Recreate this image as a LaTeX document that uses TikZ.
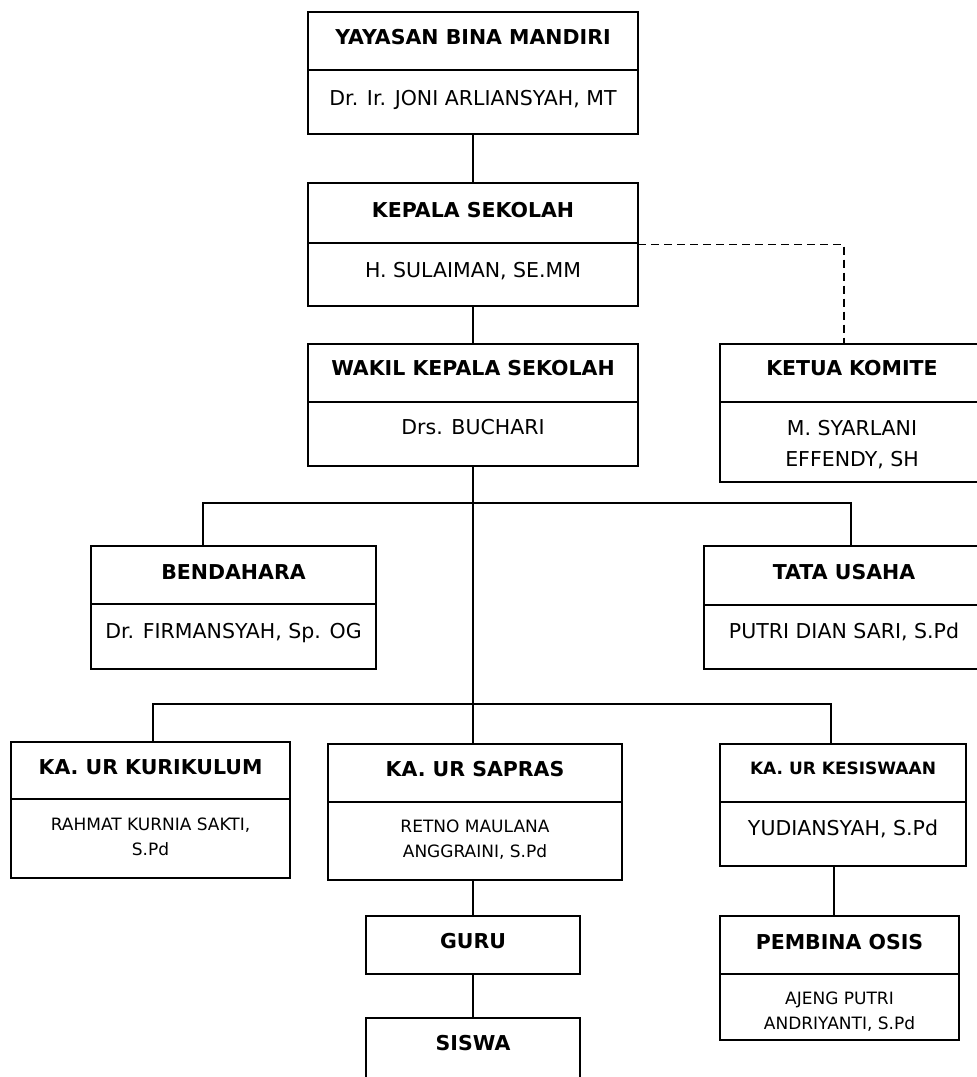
\documentclass[tikz,border=0pt]{standalone}
\usepackage{fontspec}
\setmainfont{DejaVu Sans}
\tikzset{
  orgbox/.style={draw, line width=1.3pt, outer sep=0pt, inner sep=0pt},
  divline/.style={line width=1.3pt},
  link/.style={line width=1.3pt},
  dashlink/.style={line width=1.3pt, dash pattern=on 8pt off 5pt},
  headtext/.style={anchor=base, inner sep=0pt, font=\fontsize{20.5}{24}\selectfont\bfseries},
  headsmall/.style={anchor=base, inner sep=0pt, font=\fontsize{17}{20}\selectfont\bfseries},
  nametext/.style={anchor=base, inner sep=0pt, align=center, font=\fontsize{20.5}{30.5}\selectfont},
  namesmall/.style={anchor=base, inner sep=0pt, align=center, font=\fontsize{17}{25.5}\selectfont}
}

\begin{document}
\begin{tikzpicture}[x=1pt, y=-1pt]
  \fill[white] (0,0) rectangle (977,1077);
  \useasboundingbox (0,0) rectangle (977,1077);
  \clip (0,0) rectangle (977,1077);

  % boxes
  \node[orgbox, minimum width=330pt, minimum height=122pt] (yayasan) at (473,73) {};
  \node[orgbox, minimum width=330pt, minimum height=123pt] (kepala) at (473,244.5) {};
  \node[orgbox, minimum width=330pt, minimum height=122pt] (wakil) at (473,405) {};
  \node[orgbox, minimum width=264pt, minimum height=138pt] (komite) at (852,413) {};
  \node[orgbox, minimum width=285pt, minimum height=123pt] (bendahara) at (233.5,607.5) {};
  \node[orgbox, minimum width=280pt, minimum height=123pt] (tatausaha) at (844,607.5) {};
  \node[orgbox, minimum width=279pt, minimum height=136pt] (kurikulum) at (150.5,810) {};
  \node[orgbox, minimum width=294pt, minimum height=136pt] (sapras) at (475,812) {};
  \node[orgbox, minimum width=246pt, minimum height=122pt] (kesiswaan) at (843,805) {};
  \node[orgbox, minimum width=214pt, minimum height=58pt] (guru) at (473,945) {};
  \node[orgbox, minimum width=214pt, minimum height=74pt] (siswa) at (473,1055) {};
  \node[orgbox, minimum width=239pt, minimum height=124pt] (pembina) at (839.5,978) {};

  % dividers
  \draw[divline] ([yshift=-58pt]yayasan.north west) -- ([yshift=-58pt]yayasan.north east);
  \draw[divline] ([yshift=-60pt]kepala.north west) -- ([yshift=-60pt]kepala.north east);
  \draw[divline] ([yshift=-58pt]wakil.north west) -- ([yshift=-58pt]wakil.north east);
  \draw[divline] ([yshift=-58pt]komite.north west) -- ([yshift=-58pt]komite.north east);
  \draw[divline] ([yshift=-58pt]bendahara.north west) -- ([yshift=-58pt]bendahara.north east);
  \draw[divline] ([yshift=-59pt]tatausaha.north west) -- ([yshift=-59pt]tatausaha.north east);
  \draw[divline] ([yshift=-57pt]kurikulum.north west) -- ([yshift=-57pt]kurikulum.north east);
  \draw[divline] ([yshift=-58pt]sapras.north west) -- ([yshift=-58pt]sapras.north east);
  \draw[divline] ([yshift=-58pt]kesiswaan.north west) -- ([yshift=-58pt]kesiswaan.north east);
  \draw[divline] ([yshift=-58pt]pembina.north west) -- ([yshift=-58pt]pembina.north east);

  % texts
  \node[headtext] (yayasan-head) at (473,44) {YAYASAN BINA MANDIRI};
  \node[nametext] (yayasan-name) at (473,105) {Dr. Ir. JONI ARLIANSYAH, MT};
  \node[headtext] (kepala-head) at (473,217) {KEPALA SEKOLAH};
  \node[nametext] (kepala-name) at (473,277) {H. SULAIMAN, SE.MM};
  \node[headtext] (wakil-head) at (473,375.5) {WAKIL KEPALA SEKOLAH};
  \node[nametext] (wakil-name) at (473,434.5) {Drs. BUCHARI};
  \node[headtext] (komite-head) at (852,375.5) {KETUA KOMITE};
  \node[nametext] (komite-name) at (852,466) {M. SYARLANI\\EFFENDY, SH};
  \node[headtext] (bendahara-head) at (233.5,579) {BENDAHARA};
  \node[nametext] (bendahara-name) at (233.5,638) {Dr. FIRMANSYAH, Sp. OG};
  \node[headtext] (tatausaha-head) at (844,579) {TATA USAHA};
  \node[nametext] (tatausaha-name) at (844,638) {PUTRI DIAN SARI, S.Pd};
  \node[headtext] (kurikulum-head) at (150.5,774.5) {KA. UR KURIKULUM};
  \node[namesmall] (kurikulum-name) at (150.5,855.5) {RAHMAT KURNIA SAKTI,\\S.Pd};
  \node[headtext] (sapras-head) at (475,776.5) {KA. UR SAPRAS};
  \node[namesmall] (sapras-name) at (475,857.5) {RETNO MAULANA\\ANGGRAINI, S.Pd};
  \node[headsmall] (kesiswaan-head) at (843,774) {KA. UR KESISWAAN};
  \node[nametext] (kesiswaan-name) at (843,835.5) {YUDIANSYAH, S.Pd};
  \node[headtext] (guru-head) at (473,948.5) {GURU};
  \node[headtext] (siswa-head) at (473,1050.5) {SISWA};
  \node[headtext] (pembina-head) at (839.5,949) {PEMBINA OSIS};
  \node[namesmall] (pembina-name) at (839.5,1029.5) {AJENG PUTRI\\ANDRIYANTI, S.Pd};

  % connectors
  \coordinate (bar1-l) at (203,503);
  \coordinate (bar1-r) at (851,503);
  \coordinate (bar2-l) at (153,704);
  \coordinate (bar2-r) at (831,704);
  \draw[link] (yayasan.south) -- (kepala.north);
  \draw[link] (kepala.south) -- (wakil.north);
  \draw[dashlink] (kepala.east) -| ([xshift=-8pt]komite.north);
  \draw[link] (wakil.south) -- (wakil.south |- sapras.north);
  \draw[link] (bar1-l |- bendahara.north) -- (bar1-l) -- (bar1-r) -- (bar1-r |- tatausaha.north);
  \draw[link] (bar2-l |- kurikulum.north) -- (bar2-l) -- (bar2-r) -- (bar2-r |- kesiswaan.north);
  \draw[link] (guru.north) -- (guru.north |- sapras.south);
  \draw[link] (guru.south) -- (siswa.north);
  \draw[link] ([xshift=-5.5pt]pembina.north) -- ([xshift=-5.5pt]pembina.north |- kesiswaan.south);
\end{tikzpicture}
\end{document}
